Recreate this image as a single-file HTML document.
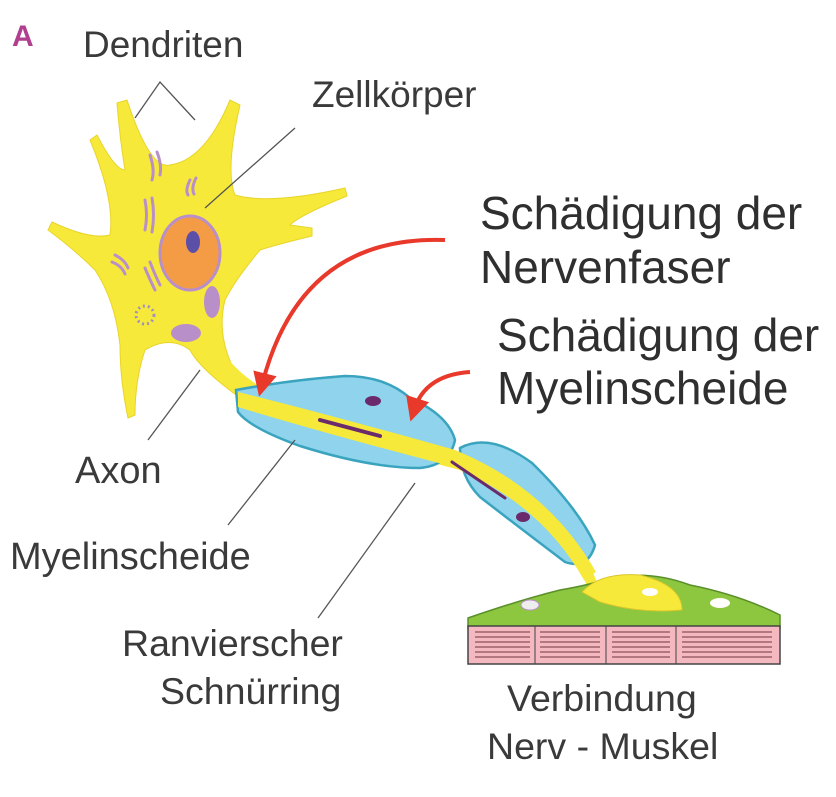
<!DOCTYPE html>
<html><head><style>
body{margin:0;background:#fff;}
svg{display:block;}
text{font-family:"Liberation Sans",sans-serif;fill:#3a3a3a;}
</style></head><body>
<svg width="836" height="797" viewBox="0 0 836 797" xmlns="http://www.w3.org/2000/svg">
<defs>
<marker id="ah" markerWidth="6" markerHeight="6" refX="3" refY="3" orient="auto" markerUnits="strokeWidth">
<path d="M0,0 L6,3 L0,6 z" fill="#e8392b"/></marker>
</defs>
<g fill="#f7e93a" stroke="#e8d42a" stroke-width="1">
<path d="M117,103 L127,100 Q150,170 170,165 Q205,160 230,100 L240,105 Q225,170 235,195 Q270,205 345,188 L347,196 Q300,215 290,225 L312,228 L312,236 Q275,245 260,250 Q235,280 225,300 Q215,340 240,380 L262,395 L250,405 Q200,370 190,350 Q170,335 145,350 Q135,380 135,415 L128,418 Q120,380 120,345 Q115,300 95,270 Q75,250 48,230 L52,222 Q90,240 110,235 Q115,200 90,140 L97,135 Q115,170 125,170 Q120,140 117,103 Z"/>
</g>
<g fill="none" stroke="#b98fc9" stroke-width="3" stroke-linecap="round">
<path d="M150,155 Q155,170 152,180"/><path d="M157,152 Q162,165 160,175"/>
<path d="M190,180 Q185,190 188,195"/><path d="M196,178 Q191,188 194,194"/>
<path d="M145,200 Q148,215 145,230"/><path d="M152,198 Q155,215 152,232"/>
<path d="M115,255 Q125,260 128,268"/><path d="M112,262 Q122,266 125,274"/>
<path d="M150,262 Q155,275 160,285"/><path d="M145,268 Q150,280 155,290"/>
</g>
<ellipse cx="190" cy="253" rx="30" ry="37" fill="#f49c45" stroke="#b98fc9" stroke-width="3"/>
<ellipse cx="193" cy="242" rx="7" ry="11" fill="#5c4fa8"/>
<ellipse cx="212" cy="302" rx="8" ry="16" fill="#b98fc9"/>
<ellipse cx="186" cy="333" rx="15" ry="9" fill="#b98fc9"/>
<circle cx="145" cy="315" r="9" fill="none" stroke="#a090c0" stroke-width="3" stroke-dasharray="2 3"/>
<path d="M215,340 Q240,385 300,405 Q420,445 470,462 Q540,500 590,565 L598,585 L588,588 Q560,520 460,470 Q380,450 300,420 Q230,400 205,355 Z" fill="#f7e93a"/>
<path d="M236,390 Q290,380 345,376 Q385,376 410,398 Q448,415 455,440 Q450,465 420,468 Q370,468 300,446 Q250,428 238,412 Z" fill="#8fd3ec" stroke="#3aa4bf" stroke-width="2.5"/>
<path d="M460,448 Q490,432 532,463 Q578,508 595,545 Q588,570 565,562 Q520,528 480,497 Q460,477 460,448 Z" fill="#8fd3ec" stroke="#3aa4bf" stroke-width="2.5"/>
<path d="M238,392 Q320,412 455,450 Q548,488 596,572 L584,580 Q540,502 450,466 Q320,432 238,407 Z" fill="#f7e93a"/>
<line x1="320" y1="420" x2="380" y2="436" stroke="#6b2a6b" stroke-width="4" stroke-linecap="round"/>
<line x1="452" y1="462" x2="505" y2="498" stroke="#6b2a6b" stroke-width="3" stroke-linecap="round"/>
<ellipse cx="373" cy="401" rx="8" ry="5" fill="#6b2a6b"/>
<ellipse cx="523" cy="517" rx="7" ry="5" fill="#6b2a6b"/>
<path d="M468,618 Q520,600 560,590 Q590,585 610,578 Q650,570 690,585 Q740,595 780,615 L780,628 L468,628 Z" fill="#8dc63f" stroke="#5a8f2a" stroke-width="1.5"/>
<path d="M582,592 Q600,572 640,575 Q682,585 682,610 Q640,614 600,602 Z" fill="#f7e93a" stroke="#d9c52a"/>
<ellipse cx="650" cy="592" rx="8" ry="4" fill="#fff"/>
<ellipse cx="720" cy="603" rx="10" ry="5" fill="#fff"/>
<ellipse cx="530" cy="605" rx="9" ry="5" fill="#eee" stroke="#b98fc9"/>
<rect x="468" y="626" width="312" height="38" fill="#f4b9c0" stroke="#444" stroke-width="1.5"/>
<g stroke="#8a5058" stroke-width="1.2">
<line x1="475" y1="632" x2="530" y2="632"/><line x1="475" y1="637" x2="530" y2="637"/><line x1="475" y1="642" x2="530" y2="642"/><line x1="475" y1="647" x2="530" y2="647"/><line x1="475" y1="652" x2="530" y2="652"/><line x1="475" y1="657" x2="530" y2="657"/>
<line x1="540" y1="632" x2="600" y2="632"/><line x1="540" y1="637" x2="600" y2="637"/><line x1="540" y1="642" x2="600" y2="642"/><line x1="540" y1="647" x2="600" y2="647"/><line x1="540" y1="652" x2="600" y2="652"/><line x1="540" y1="657" x2="600" y2="657"/>
<line x1="612" y1="632" x2="670" y2="632"/><line x1="612" y1="637" x2="670" y2="637"/><line x1="612" y1="642" x2="670" y2="642"/><line x1="612" y1="647" x2="670" y2="647"/><line x1="612" y1="652" x2="670" y2="652"/><line x1="612" y1="657" x2="670" y2="657"/>
<line x1="682" y1="632" x2="772" y2="632"/><line x1="682" y1="637" x2="772" y2="637"/><line x1="682" y1="642" x2="772" y2="642"/><line x1="682" y1="647" x2="772" y2="647"/><line x1="682" y1="652" x2="772" y2="652"/><line x1="682" y1="657" x2="772" y2="657"/>
</g>
<g stroke="#444" stroke-width="1"><line x1="535" y1="626" x2="535" y2="664"/><line x1="606" y1="626" x2="606" y2="664"/><line x1="676" y1="626" x2="676" y2="664"/></g>
<g stroke="#555" stroke-width="1.3" fill="none">
<path d="M135,118 L160,82 L195,120"/>
<line x1="295" y1="128" x2="205" y2="208"/>
<line x1="200" y1="370" x2="148" y2="440"/>
<line x1="295" y1="440" x2="228" y2="525"/>
<line x1="415" y1="483" x2="318" y2="618"/>
</g>
<path d="M445,240 Q300,235 262,385" fill="none" stroke="#e8392b" stroke-width="4" marker-end="url(#ah)"/>
<path d="M470,372 Q425,375 414,410" fill="none" stroke="#e8392b" stroke-width="4" marker-end="url(#ah)"/>
<text x="12" y="46" font-size="30" font-weight="bold" style="fill:#b0408f">A</text>
<text x="83" y="57" font-size="37">Dendriten</text>
<text x="312" y="107" font-size="37">Zellkörper</text>
<text x="480" y="229" font-size="46" style="fill:#2f2f2f">Schädigung der</text>
<text x="480" y="283" font-size="46" style="fill:#2f2f2f">Nervenfaser</text>
<text x="497" y="351" font-size="46" style="fill:#2f2f2f">Schädigung der</text>
<text x="497" y="404" font-size="46" style="fill:#2f2f2f">Myelinscheide</text>
<text x="75" y="483" font-size="38">Axon</text>
<text x="10" y="569" font-size="38">Myelinscheide</text>
<text x="122" y="656" font-size="37.5">Ranvierscher</text>
<text x="160" y="704" font-size="37.5">Schnürring</text>
<text x="507" y="711" font-size="37.5">Verbindung</text>
<text x="487" y="759" font-size="37.5">Nerv - Muskel</text>
</svg>
</body></html>
